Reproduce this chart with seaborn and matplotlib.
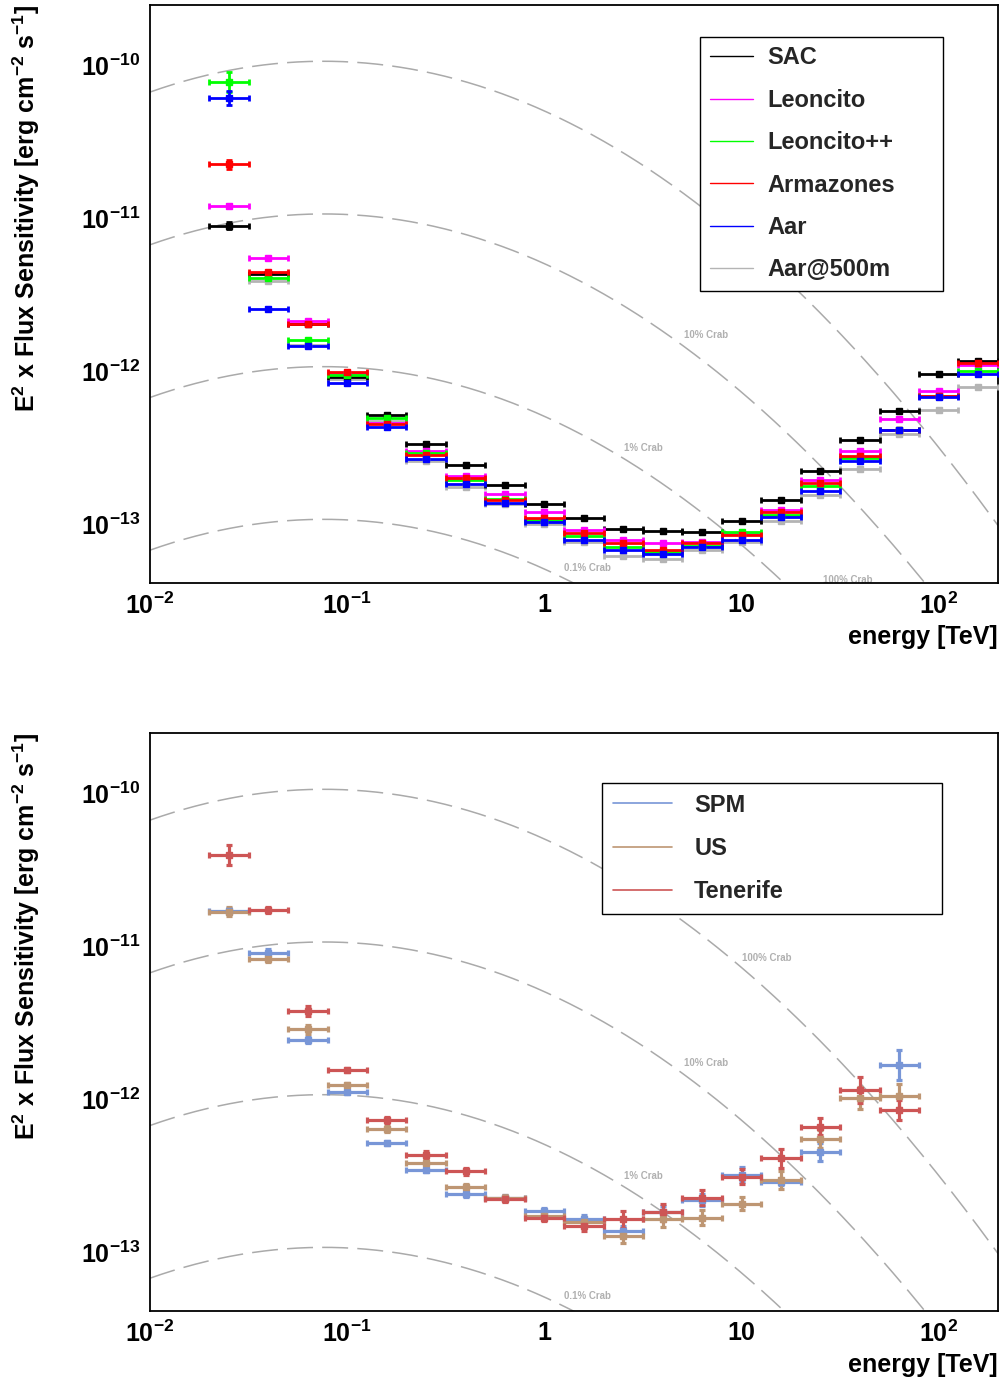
import numpy as np
import pandas as pd
import matplotlib
matplotlib.use("Agg")
import matplotlib.pyplot as plt
import seaborn as sns
from matplotlib.lines import Line2D
from matplotlib.ticker import FixedLocator, FixedFormatter, NullFormatter

nan = np.nan

# energy bins (log10 of bin centre in TeV), 0.2 dex wide
log_e_centres = [-1.6, -1.4, -1.2, -1.0, -0.8, -0.6, -0.4, -0.2, 0.0, 0.2,
                 0.4, 0.6, 0.8, 1.0, 1.2, 1.4, 1.6, 1.8, 2.0, 2.2]
half_width = 0.1

# ---- top panel: sensitivities [erg cm^-2 s^-1] ----
sac = [8.95e-12, 4.32e-12, 2.05e-12, 9.2e-13, 5.14e-13, 3.33e-13, 2.43e-13, 1.79e-13, 1.35e-13, 1.09e-13,
       9.2e-14, 8.93e-14, 8.85e-14, 1.04e-13, 1.43e-13, 2.22e-13, 3.56e-13, 5.46e-13, 9.6e-13, 1.17e-12]
leoncito = [1.21e-11, 5.52e-12, 2.13e-12, 9.7e-13, 4.55e-13, 3.02e-13, 2.06e-13, 1.56e-13, 1.2e-13, 9.06e-14,
            7.8e-14, 7.48e-14, 7.6e-14, 8.6e-14, 1.24e-13, 1.93e-13, 3.0e-13, 4.84e-13, 7.43e-13, 1.1e-12]
leoncito_pp = [7.8e-11, 4.1e-12, 1.6e-12, 9.45e-13, 4.96e-13, 2.91e-13, 1.95e-13, 1.46e-13, 1.06e-13, 8.28e-14,
               7.05e-14, 6.53e-14, 7.2e-14, 8.85e-14, 1.15e-13, 1.76e-13, 2.69e-13, 4.1e-13, 6.9e-13, 1.0e-12]
armazones = [2.26e-11, 4.47e-12, 2.03e-12, 9.85e-13, 4.48e-13, 2.81e-13, 2.01e-13, 1.43e-13, 1.1e-13, 8.75e-14,
             7.53e-14, 6.75e-14, 7.48e-14, 8.5e-14, 1.2e-13, 1.85e-13, 2.77e-13, 4.12e-13, 6.9e-13, 1.13e-12]
aar = [6.15e-11, 2.57e-12, 1.47e-12, 8.3e-13, 4.31e-13, 2.65e-13, 1.81e-13, 1.37e-13, 1.03e-13, 7.87e-14,
       6.7e-14, 6.3e-14, 7.05e-14, 7.87e-14, 1.11e-13, 1.63e-13, 2.57e-13, 4.1e-13, 6.72e-13, 9.6e-13]
aar_500m = [nan, 3.9e-12, 1.49e-12, 8.87e-13, 4.69e-13, 2.57e-13, 1.74e-13, 1.34e-13, 1.0e-13, 7.63e-14,
            6.15e-14, 5.9e-14, 6.7e-14, 7.6e-14, 1.04e-13, 1.54e-13, 2.28e-13, 3.86e-13, 5.6e-13, 7.9e-13]
# vertical error (dex) in the first bin, the rest are tiny
top_first_err = {"SAC": 0.024, "Leoncito": 0.013, "Leoncito++": 0.065,
                 "Armazones": 0.03, "Aar": 0.044, "Aar@500m": 0.0}
top_err_rest = 0.008

top_names = ["SAC", "Leoncito", "Leoncito++", "Armazones", "Aar", "Aar@500m"]
top_values = [sac, leoncito, leoncito_pp, armazones, aar, aar_500m]
top_colors = ["#000000", "#ff00ff", "#00ff00", "#ff0000", "#0000ff", "#b4b4b4"]

# ---- bottom panel ----
spm = [1.70e-11, 9.06e-12, 2.45e-12, 1.12e-12, 5.16e-13, 3.46e-13, 2.39e-13, 2.25e-13, 1.85e-13, 1.63e-13,
       1.38e-13, 1.83e-13, 2.19e-13, 3.2e-13, 2.88e-13, 4.53e-13, nan, 1.67e-12]
us = [1.69e-11, 8.27e-12, 2.87e-12, 1.24e-12, 6.38e-13, 3.82e-13, 2.65e-13, 2.25e-13, 1.73e-13, 1.58e-13,
      1.27e-13, 1.65e-13, 1.67e-13, 2.07e-13, 2.95e-13, 5.48e-13, 1.02e-12, 1.05e-12]
tenerife = [3.99e-11, 1.73e-11, 3.76e-12, 1.55e-12, 7.35e-13, 4.3e-13, 3.36e-13, 2.23e-13, 1.67e-13, 1.47e-13,
            1.63e-13, 1.82e-13, 2.27e-13, 3.1e-13, 4.09e-13, 6.61e-13, 1.15e-12, 8.47e-13]
spm_err = [0.02, 0.025, 0.02, 0.015, 0.015, 0.015, 0.02, 0.02, 0.02, 0.03,
           0.03, 0.04, 0.04, 0.05, 0.02, 0.06, 0.0, 0.097]
us_err = [0.03, 0.02, 0.03, 0.015, 0.02, 0.02, 0.02, 0.02, 0.02, 0.03,
          0.044, 0.055, 0.05, 0.045, 0.06, 0.06, 0.07, 0.08]
tenerife_err = [0.066, 0.02, 0.033, 0.013, 0.02, 0.025, 0.02, 0.02, 0.02, 0.03,
                0.055, 0.055, 0.05, 0.05, 0.06, 0.055, 0.085, 0.066]

bottom_names = ["SPM", "US", "Tenerife"]
bottom_values = [spm, us, tenerife]
bottom_errs = [spm_err, us_err, tenerife_err]
bottom_colors = ["#7896d7", "#be9673", "#cd5555"]

# Crab reference (MAGIC log-parabola), fractions drawn as dashed lines
crab_fractions = [1.0, 0.1, 0.01, 0.001]
crab_norm = 6.0e-10      # TeV^-1 cm^-2 s^-1 at 0.3 TeV
crab_index = -2.31
crab_curv = -0.26
tev_to_erg = 1.602

top_crab_labels = [("100% Crab", 26.0, 4.3e-14), ("10% Crab", 5.1, 1.72e-12),
                   ("1% Crab", 2.52, 3.12e-13), ("0.1% Crab", 1.26, 5.13e-14)]
bottom_crab_labels = [("100% Crab", 10.1, 8.43e-12), ("10% Crab", 5.1, 1.72e-12),
                      ("1% Crab", 2.52, 3.12e-13), ("0.1% Crab", 1.26, 5.13e-14)]

sns.set_theme(style="white")
plt.rcParams["font.family"] = ["Liberation Sans", "DejaVu Sans"]
plt.rcParams["font.weight"] = "bold"
plt.rcParams["mathtext.fontset"] = "custom"
plt.rcParams["mathtext.rm"] = "Liberation Sans:bold"
plt.rcParams["mathtext.bf"] = "Liberation Sans:bold"
plt.rcParams["mathtext.it"] = "Liberation Sans:bold"

fig = plt.figure(figsize=(10.03, 13.87), dpi=100)
ax_top = fig.add_axes([0.1496, 0.5797, 0.8455, 0.4167])
ax_bot = fig.add_axes([0.1496, 0.0548, 0.8455, 0.4167])

e_grid = np.logspace(-2, np.log10(200), 300)
xr = np.log10(e_grid / 0.3)
crab_e2 = crab_norm * (e_grid / 0.3) ** (crab_index + crab_curv * xr) * e_grid ** 2 * tev_to_erg


def draw_points(ax, values, errs, color, lw):
    n = len(values)
    logc = np.array(log_e_centres[:n])
    x = 10 ** logc
    xlo = x - 10 ** (logc - half_width)
    xhi = 10 ** (logc + half_width) - x
    y = np.array(values, dtype=float)
    e = np.array(errs, dtype=float)
    ylo = y - y * 10 ** (-e)
    yhi = y * 10 ** e - y
    ax.errorbar(x, y, xerr=[xlo, xhi], yerr=[ylo, yhi], fmt="s", ms=4,
                color=color, ecolor=color, elinewidth=lw, capsize=2.4, capthick=lw,
                mec=color, mfc=color, zorder=3)


def style_axes(ax, crab_labels):
    for f in crab_fractions:
        df = pd.DataFrame({"energy": e_grid, "flux": crab_e2 * f})
        sns.lineplot(data=df, x="energy", y="flux", ax=ax, color="#aaaaaa", lw=1.1,
                     linestyle=(0, (17, 6)), zorder=1)
    for txt, ex, fy in crab_labels:
        ax.text(ex, fy, txt, fontsize=7, color="#b0b0b0", fontweight="bold",
                ha="left", va="center", clip_on=True, zorder=2)
    ax.set_xscale("log")
    ax.set_yscale("log")
    ax.set_xlim(1e-2, 200)
    ax.set_ylim(4.1e-14, 2.5e-10)
    ax.xaxis.set_major_locator(FixedLocator([1e-2, 1e-1, 1, 10, 100]))
    ax.xaxis.set_major_formatter(FixedFormatter([r"$\mathbf{10^{-2}}$", r"$\mathbf{10^{-1}}$",
                                                 r"$\mathbf{1}$", r"$\mathbf{10}$", r"$\mathbf{10^{2}}$"]))
    xminor = [m * 10.0 ** d for d in range(-2, 3) for m in range(2, 10)]
    ax.xaxis.set_minor_locator(FixedLocator(xminor))
    ax.xaxis.set_minor_formatter(NullFormatter())
    ax.yaxis.set_major_locator(FixedLocator([1e-13, 1e-12, 1e-11, 1e-10]))
    ax.yaxis.set_major_formatter(FixedFormatter([r"$\mathbf{10^{-13}}$", r"$\mathbf{10^{-12}}$",
                                                 r"$\mathbf{10^{-11}}$", r"$\mathbf{10^{-10}}$"]))
    yminor = [m * 10.0 ** d for d in range(-14, -9) for m in range(2, 10)]
    ax.yaxis.set_minor_locator(FixedLocator(yminor))
    ax.yaxis.set_minor_formatter(NullFormatter())
    ax.tick_params(axis="both", which="both", direction="in", top=False, right=False,
                   width=0.8, color="black", labelsize=18, labelcolor="black")
    ax.tick_params(axis="y", which="major", length=19, pad=7)
    ax.tick_params(axis="y", which="minor", length=9.5)
    ax.tick_params(axis="x", which="major", length=11, pad=7)
    ax.tick_params(axis="x", which="minor", length=5.5)
    for s in ax.spines.values():
        s.set_color("black")
        s.set_linewidth(1.3)
    ax.set_xlabel("energy [TeV]", fontsize=18, fontweight="bold", color="black", loc="right")
    ax.xaxis.set_label_coords(1.0, -0.073)
    ax.set_ylabel(r"E$^{\mathbf{2}}$ x Flux Sensitivity [erg cm$^{\mathbf{-2}}$ s$^{\mathbf{-1}}$]",
                  fontsize=18, fontweight="bold", color="black", loc="top")
    ax.yaxis.set_label_coords(-0.128, 1.0)


# top panel
style_axes(ax_top, top_crab_labels)
draw_order = [5, 0, 1, 2, 3, 4]
for i in draw_order:
    errs = [top_first_err[top_names[i]]] + [top_err_rest] * (len(top_values[i]) - 1)
    draw_points(ax_top, top_values[i], errs, top_colors[i], 2.0)
handles = [Line2D([], [], color=c, lw=1.0) for c in top_colors]
leg = ax_top.legend(handles, top_names, loc="upper left", bbox_to_anchor=(0.6486, 0.9446, 0.2865, 0.0),
                    mode="expand", fontsize=17, frameon=True, fancybox=False, framealpha=1,
                    edgecolor="black", handlelength=1.85, handletextpad=0.6, labelspacing=0.82,
                    borderpad=0.4, borderaxespad=0.0)
leg.get_frame().set_linewidth(1.0)
for t in leg.get_texts():
    t.set_fontweight("bold")

# bottom panel
style_axes(ax_bot, bottom_crab_labels)
for vals, errs, c in zip(bottom_values, bottom_errs, bottom_colors):
    draw_points(ax_bot, vals, errs, c, 2.3)
handles = [Line2D([], [], color=c, lw=1.2) for c in bottom_colors]
leg = ax_bot.legend(handles, bottom_names, loc="upper left", bbox_to_anchor=(0.533, 0.9135, 0.401, 0.0),
                    mode="expand", fontsize=17, frameon=True, fancybox=False, framealpha=1,
                    edgecolor="black", handlelength=2.5, handletextpad=0.95, labelspacing=0.86,
                    borderpad=0.45, borderaxespad=0.0)
leg.get_frame().set_linewidth(1.0)
for t in leg.get_texts():
    t.set_fontweight("bold")

fig.savefig("out.png", dpi=100, facecolor="white")
